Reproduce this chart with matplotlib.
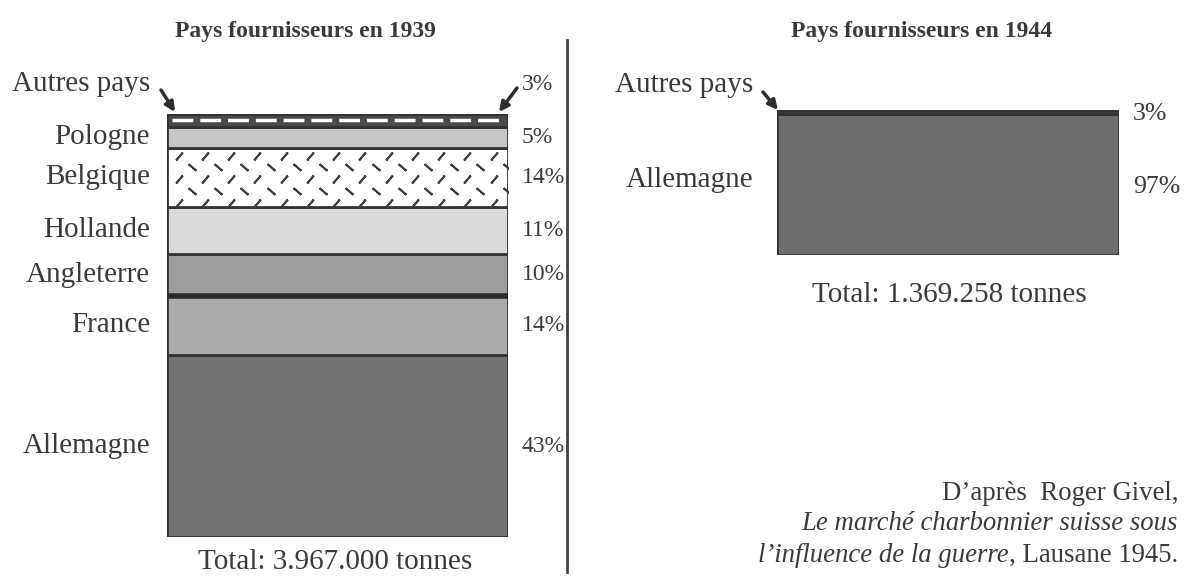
import matplotlib.pyplot as plt
import numpy as np

plt.rcParams['font.family'] = ['Liberation Serif', 'DejaVu Serif']

# data (bottom to top)
pays_1939 = ["Allemagne", "France", "Angleterre", "Hollande", "Belgique", "Pologne", "Autres pays"]
pct_1939 = [43, 14, 10, 11, 14, 5, 3]
total_1939 = 3967000

pays_1944 = ["Allemagne", "Autres pays"]
pct_1944 = [97, 3]
total_1944 = 1369258

txt = '#3a3a3a'
edge = '#333333'
fill_1939 = ['#727272', '#ababab', '#9d9d9d', '#dadada', 'white', '#c6c6c6', '#4a4a4a']
fill_1944 = ['#6d6d6d', '#3c3c3c']

W, H = 1184, 579
fig = plt.figure(figsize=(W / 100, H / 100), dpi=100)


def px_axes(x0, x1, ytop, ybot):
    return fig.add_axes([x0 / W, 1 - ybot / H, (x1 - x0) / W, (ybot - ytop) / H])


# overlay axes in pixel units for titles, divider and arrows
ov = fig.add_axes([0, 0, 1, 1])
ov.set_xlim(0, W)
ov.set_ylim(H, 0)
ov.set_axis_off()

fs = 21     # country names
fsp = 17    # percentages 1939
fsp2 = 18.5 # percentages 1944
fst = 17    # titles

# ---- 1939 ----
ax1 = px_axes(167, 508, 114, 537)
ax1.set_xlim(0, 1)
ax1.set_ylim(0, total_1939)
ax1.set_axis_off()
t1 = np.array(pct_1939) / 100 * total_1939
bot1 = np.concatenate([[0], np.cumsum(t1)[:-1]])
ax1.bar(0.5, t1, width=1, bottom=bot1, color=fill_1939, edgecolor=edge, linewidth=2)

# thick separation between France and Angleterre
ax1.axhline(bot1[2], color='#2a2a2a', lw=4)

# Autres pays: dashed band
i = pays_1939.index("Autres pays")
ax1.plot([0.015, 0.985], [bot1[i] + t1[i] / 2] * 2, color='white', lw=2.5, ls=(0, (6, 2)),
         solid_capstyle='butt')

# Belgique pattern
i = pays_1939.index("Belgique")
for r, fr in enumerate([0.13, 0.32, 0.52, 0.73, 0.93]):
    yy = bot1[i] + t1[i] * (1 - fr)
    if r % 2 == 0:
        xs = (np.arange(13) + 0.45) / 13
        mk = (2, 2, -40)
    else:
        xs = (np.arange(13) + 0.95) / 13
        mk = (2, 2, 50)
    ax1.plot(xs, [yy] * len(xs), ls='none', marker=mk, ms=7.5, mew=1.4, color='#404040')

for name, b, v, p in zip(pays_1939, bot1, t1, pct_1939):
    yc = b + v / 2
    if name == "Autres pays":
        yc = total_1939 * 1.07
    ax1.text(-0.05, yc, name, ha='right', va='center', fontsize=fs, color=txt, clip_on=False)
    ax1.text(1.04, yc, f"{p}%", ha='left', va='center', fontsize=fsp, color=txt, clip_on=False)

ov.text(175, 32, "Pays fournisseurs en 1939", ha='left', va='center', fontsize=fst,
        fontweight='bold', color=txt)
ov.text(335, 562, f"Total: {total_1939:,} tonnes".replace(',', '.'), ha='center', va='center',
        fontsize=fs, color=txt)

# ---- 1944 ----
ax2 = px_axes(777, 1119, 110, 255)
ax2.set_xlim(0, 1)
ax2.set_ylim(0, total_1944)
ax2.set_axis_off()
t2 = np.array(pct_1944) / 100 * total_1944
bot2 = np.concatenate([[0], np.cumsum(t2)[:-1]])
ax2.bar(0.5, t2, width=1, bottom=bot2, color=fill_1944, edgecolor=edge, linewidth=2)

ax2.text(-0.07, total_1944 * 0.52, "Allemagne", ha='right', va='center', fontsize=fs,
         color=txt, clip_on=False)
ax2.text(1.04, total_1944 * 0.97, "3%", ha='left', va='center', fontsize=fsp2, color=txt,
         clip_on=False)
ax2.text(1.04, total_1944 * 0.47, "97%", ha='left', va='center', fontsize=fsp2, color=txt,
         clip_on=False)
ov.text(753, 85, "Autres pays", ha='right', va='center', fontsize=fs, color=txt)

ov.text(922, 32, "Pays fournisseurs en 1944", ha='center', va='center', fontsize=fst,
        fontweight='bold', color=txt)
ov.text(949, 295, f"Total: {total_1944:,} tonnes".replace(',', '.'), ha='center',
        va='center', fontsize=fs, color=txt)

# arrows
ap = dict(arrowstyle='-|>', color='#2e2e2e', lw=2.5, mutation_scale=14, shrinkA=0, shrinkB=0)
ov.annotate("", xy=(175, 112), xytext=(161, 90), arrowprops=ap)
ov.annotate("", xy=(499, 112), xytext=(517, 88), arrowprops=ap)
ov.annotate("", xy=(778, 110), xytext=(763, 92), arrowprops=ap)

# divider
ov.plot([567, 567], [40, 572], color='#444444', lw=2)

# source
fss = 19.3
src = ov.text(1178, 555, ", Lausane 1945.", ha='right', va='center', fontsize=fss, color=txt)
ov.annotate("l\u2019influence de la guerre", xy=(0, 0.5), xycoords=src, ha='right',
            va='center', fontsize=fss, color=txt, style='italic')
ov.text(1178, 524, "Le marché charbonnier suisse sous", ha='right', va='center',
        fontsize=fss, color=txt, style='italic')
ov.text(1178, 493, "D\u2019après  Roger Givel,", ha='right', va='center', fontsize=fss,
        color=txt)

fig.savefig("out.png", dpi=100, facecolor='white')
